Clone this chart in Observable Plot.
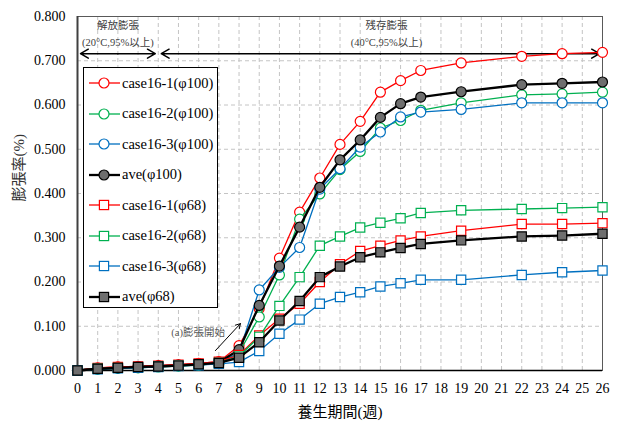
<!DOCTYPE html>
<html>
<head>
<meta charset="utf-8">
<script src="https://cdn.jsdelivr.net/npm/d3@7"></script>
<script src="https://cdn.jsdelivr.net/npm/@observablehq/plot@0.6"></script>
<style>
  body { margin: 0; background: #fff; }
  #chart { position: relative; width: 619px; height: 428px; }
  #legend {
    position: absolute; left: 83px; top: 67px; width: 135px; height: 241px;
    box-sizing: border-box; border: 1.5px solid #000; background: #fff;
    font-family: "Liberation Serif", Tinos, "Times New Roman", serif;
    font-size: 14.5px; color: #000;
  }
  #legend .row { display: flex; align-items: center; height: 30.5px; white-space: nowrap; }
  #legend svg { display: block; flex: none; }
</style>
</head>
<body>
<div id="chart"></div>
<script>
// Curing weeks at which expansion was measured
const weeks = [0, 1, 2, 3, 4, 5, 6, 7, 8, 9, 10, 11, 12, 13, 14, 15, 16, 17, 19, 22, 24, 26];

// Expansion ratio (%) — φ100 specimens
const case1_100 = [0, 0.006, 0.008, 0.009, 0.011, 0.013, 0.016, 0.020, 0.056, 0.140, 0.254, 0.358, 0.435, 0.511, 0.563, 0.629, 0.655, 0.678, 0.695, 0.710, 0.716, 0.719];
const case2_100 = [0, 0.003, 0.005, 0.006, 0.008, 0.010, 0.012, 0.016, 0.040, 0.121, 0.216, 0.342, 0.399, 0.454, 0.495, 0.548, 0.565, 0.588, 0.605, 0.623, 0.625, 0.629];
const case3_100 = [0, 0.004, 0.006, 0.007, 0.009, 0.011, 0.013, 0.016, 0.040, 0.182, 0.233, 0.278, 0.410, 0.456, 0.505, 0.539, 0.573, 0.584, 0.590, 0.605, 0.605, 0.605];
const ave_100   = [0, 0.004, 0.006, 0.008, 0.010, 0.012, 0.014, 0.018, 0.047, 0.147, 0.236, 0.324, 0.414, 0.476, 0.521, 0.572, 0.603, 0.618, 0.630, 0.646, 0.649, 0.652];

// Expansion ratio (%) — φ68 specimens
const case1_68 = [0, 0.006, 0.008, 0.009, 0.011, 0.013, 0.016, 0.020, 0.035, 0.079, 0.117, 0.151, 0.200, 0.240, 0.270, 0.282, 0.294, 0.303, 0.316, 0.331, 0.331, 0.333];
const case2_68 = [0, 0.004, 0.006, 0.007, 0.009, 0.011, 0.013, 0.017, 0.032, 0.076, 0.146, 0.211, 0.282, 0.303, 0.323, 0.334, 0.344, 0.356, 0.362, 0.365, 0.367, 0.369];
const case3_68 = [0, 0.003, 0.005, 0.006, 0.008, 0.010, 0.012, 0.015, 0.019, 0.044, 0.083, 0.115, 0.151, 0.166, 0.177, 0.190, 0.197, 0.205, 0.205, 0.216, 0.222, 0.226];
const ave_68   = [0, 0.004, 0.006, 0.008, 0.009, 0.011, 0.014, 0.017, 0.029, 0.064, 0.113, 0.157, 0.211, 0.235, 0.256, 0.267, 0.277, 0.286, 0.294, 0.303, 0.305, 0.309];

const seriesNames = ["case16-1(φ100)", "case16-2(φ100)", "case16-3(φ100)", "ave(φ100)",
                     "case16-1(φ68)", "case16-2(φ68)", "case16-3(φ68)", "ave(φ68)"];
const seriesValues = [case1_100, case2_100, case3_100, ave_100, case1_68, case2_68, case3_68, ave_68];

// Axis ticks
const xTicks = d3.range(0, 27);
const yTicks = [0, 0.1, 0.2, 0.3, 0.4, 0.5, 0.6, 0.7, 0.8];

// Curing phases shown above the plot
const phases = [
  {name: "解放膨張", cond: "(20°C,95%以上)", from: 0, to: 4, labelAt: 2},
  {name: "残存膨張", cond: "(40°C,95%以上)", from: 4, to: 26, labelAt: 15.3}
];
const onsetNote = [{text: "(a)膨張開始", x1: 6.83, y1: 0.045, x2: 8.07, y2: 0.106, tx: 7.3, ty: 0.086}];

const palette = ["#ff0000", "#00b050", "#0070c0", "#000000"];
const series = seriesNames.map((name, i) => ({
  name,
  values: seriesValues[i],
  color: palette[i % 4],
  symbol: i < 4 ? "circle" : "square",
  isAve: name.startsWith("ave")
}));
const rows = series.flatMap(s => weeks.map((w, j) => ({name: s.name, week: w, value: s.values[j]})));

const serif = "'Liberation Serif', Tinos, 'Times New Roman', serif";
const cjk = "'Liberation Serif', Tinos, 'Noto Sans CJK JP', sans-serif";

const seriesMarks = series.flatMap(s => {
  const data = rows.filter(r => r.name === s.name);
  return [
    Plot.line(data, {x: "week", y: "value", stroke: s.color, strokeWidth: s.isAve ? 2.3 : 1.3}),
    Plot.dot(data, {
      x: "week", y: "value", symbol: s.symbol,
      r: s.symbol === "square" ? 5.2 : 5,
      stroke: s.color, strokeWidth: 1.2,
      fill: s.isAve ? "#6e6e6e" : "#ffffff"
    })
  ];
});

const plot = Plot.plot({
  width: 619,
  height: 428,
  marginLeft: 77,
  marginRight: 17,
  marginTop: 16,
  marginBottom: 58,
  style: {fontFamily: serif, background: "#fff", color: "#000"},
  x: {domain: [0, 26]},
  y: {domain: [0, 0.8]},
  marks: [
    Plot.ruleX(xTicks.slice(1, -1), {stroke: "#c4c4c4", strokeDasharray: "4,3"}),
    Plot.ruleY(yTicks.slice(1, -1), {stroke: "#c4c4c4", strokeDasharray: "4,3"}),
    Plot.frame({stroke: "#595959"}),
    Plot.axisX({ticks: xTicks, tickFormat: d => String(d), tickSize: 0, tickPadding: 13, fontSize: 14, fontFamily: serif, label: null}),
    Plot.axisY({ticks: yTicks, tickFormat: d3.format(".3f"), tickSize: 0, tickPadding: 12, fontSize: 14, fontFamily: serif, label: null}),
    Plot.ruleX([0], {stroke: "#404040", strokeWidth: 2}),
    Plot.ruleY([0], {stroke: "#000", strokeWidth: 1.5}),
    // axis titles
    Plot.text(["膨張率(%)"], {frameAnchor: "left", dx: -58, dy: 8, rotate: -90, fontSize: 15, fill: "#333", fontFamily: cjk}),
    Plot.text(["養生期間(週)"], {frameAnchor: "bottom", dy: 46, fontSize: 15, fill: "#000", fontFamily: cjk}),
    // phase annotations
    Plot.text(phases, {x: "labelAt", y: () => 0.78, text: "name", fontSize: 10.5, fill: "#404040", fontFamily: cjk}),
    Plot.text(phases, {x: "labelAt", y: () => 0.741, text: "cond", fontSize: 10.5, fill: "#404040", fontFamily: cjk}),
    Plot.arrow(phases, {x1: d => (d.from + d.to) / 2, x2: "from", y1: () => 0.716, y2: () => 0.716, insetEnd: 3, headLength: 9, stroke: "#000", strokeWidth: 1.5}),
    Plot.arrow(phases, {x1: d => (d.from + d.to) / 2, x2: "to", y1: () => 0.716, y2: () => 0.716, insetEnd: 3, headLength: 9, stroke: "#000", strokeWidth: 1.5}),
    ...seriesMarks,
    // onset of expansion
    Plot.arrow(onsetNote, {x1: "x1", y1: "y1", x2: "x2", y2: "y2", headLength: 8, stroke: "#000", strokeWidth: 1}),
    Plot.text(onsetNote, {x: "tx", y: "ty", text: "text", textAnchor: "end", fontSize: 10.5, fill: "#595959", fontFamily: cjk})
  ]
});

const chart = document.getElementById("chart");
chart.appendChild(plot);

// Legend box inside the plot area
const legend = document.createElement("div");
legend.id = "legend";
for (const s of series) {
  const row = document.createElement("div");
  row.className = "row";
  const sample = d3.create("svg").attr("width", 38).attr("height", 20);
  sample.append("line").attr("x1", 5).attr("x2", 36).attr("y1", 10).attr("y2", 10)
    .attr("stroke", s.color).attr("stroke-width", s.isAve ? 2.3 : 1.3);
  const fill = s.isAve ? "#6e6e6e" : "#ffffff";
  if (s.symbol === "circle") {
    sample.append("circle").attr("cx", 20).attr("cy", 10).attr("r", 5)
      .attr("fill", fill).attr("stroke", s.color).attr("stroke-width", 1.2);
  } else {
    sample.append("rect").attr("x", 15.4).attr("y", 5.4).attr("width", 9.2).attr("height", 9.2)
      .attr("fill", fill).attr("stroke", s.color).attr("stroke-width", 1.2);
  }
  row.appendChild(sample.node());
  const label = document.createElement("span");
  label.textContent = s.name;
  row.appendChild(label);
  legend.appendChild(row);
}
chart.appendChild(legend);
</script>
</body>
</html>
